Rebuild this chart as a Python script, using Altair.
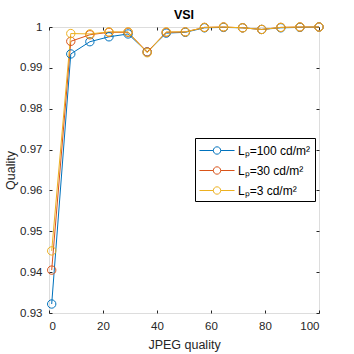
import altair as alt
import pandas as pd

jpeg_q = [1, 8.07, 15.14, 22.21, 29.29, 36.36, 43.43, 50.5, 57.57, 64.64, 71.71, 78.79, 85.86, 92.93, 100]
vsi_100 = [0.9322, 0.9934, 0.9964, 0.9976, 0.9983, 0.9939, 0.9985, 0.9987, 0.9998, 0.9999, 0.9998, 0.9994, 0.9998, 0.9999, 1.0]
vsi_30 = [0.9405, 0.9965, 0.9981, 0.9987, 0.9987, 0.9939, 0.9987, 0.9988, 0.9999, 1.0, 0.9998, 0.9994, 0.9999, 1.0, 1.0]
vsi_3 = [0.9452, 0.9984, 0.9983, 0.9988, 0.9988, 0.9937, 0.9988, 0.9988, 0.9999, 1.0, 0.9998, 0.9994, 0.9999, 1.0, 1.0]
series = ["Lₚ=100 cd/m²", "Lₚ=30 cd/m²", "Lₚ=3 cd/m²"]
colors = ["#0072BD", "#D95319", "#EDB120"]
x_ticks = [0, 20, 40, 60, 80, 100]
y_ticks = [0.93, 0.94, 0.95, 0.96, 0.97, 0.98, 0.99, 1.0]

rows = []
for name, vals in zip(series, [vsi_100, vsi_30, vsi_3]):
    for q, v in zip(jpeg_q, vals):
        rows.append({"q": q, "v": v, "s": name})
df = pd.DataFrame(rows)

FONT = "Liberation Sans"
TXT = "#262626"

xscale = alt.Scale(domain=[0, 100], nice=False)
yscale = alt.Scale(domain=[0.93, 1.0], nice=False, zero=False)

sym_path = "M-1,0L0.73,0M1.65,0L3.38,0M1.65,0A0.46,0.46,0,1,1,0.73,0A0.46,0.46,0,1,1,1.65,0"

main = alt.Chart(df).mark_line(
    strokeWidth=1, clip=False,
    point=alt.OverlayMarkDef(filled=False, size=70, strokeWidth=1, fill=None, clip=False),
).encode(
    x=alt.X("q:Q", scale=xscale, axis=alt.Axis(
        values=x_ticks, title="JPEG quality", domain=False, grid=False,
        offset=-3, tickSize=3, tickColor=TXT, labelPadding=7,
        labelColor=TXT, labelFont=FONT, labelFontSize=11.5,
        titleFont=FONT, titleFontSize=12.5, titleFontWeight="normal", titleColor=TXT,
        titlePadding=7)),
    y=alt.Y("v:Q", scale=yscale, axis=alt.Axis(
        values=y_ticks, title="Quality", domain=False, grid=False,
        offset=-3, tickSize=3, tickColor=TXT, labelPadding=7,
        labelExpr="datum.value >= 0.9999 ? '1' : format(datum.value, '.2f')",
        labelColor=TXT, labelFont=FONT, labelFontSize=11.5,
        titleFont=FONT, titleFontSize=12.5, titleFontWeight="normal", titleColor=TXT,
        titlePadding=2)),
    color=alt.Color("s:N", scale=alt.Scale(domain=series, range=colors), sort=series,
        legend=alt.Legend(
            title=None, orient="none", legendX=146, legendY=111,
            symbolType=sym_path, symbolSize=256, symbolStrokeWidth=1,
            symbolFillColor="transparent", labelFont=FONT, labelFontSize=12,
            labelColor="black", labelOffset=22, rowPadding=5, padding=4,
            strokeColor="black", fillColor="white", labelLimit=200)),
)

ghost = alt.Chart(df).mark_point(opacity=0).encode(
    x=alt.X("q:Q", scale=xscale, axis=alt.Axis(
        orient="top", values=x_ticks, labels=False, title=None, domain=False, grid=False,
        offset=-3, tickSize=3, tickColor=TXT)),
    y=alt.Y("v:Q", scale=yscale, axis=alt.Axis(
        orient="right", values=y_ticks, labels=False, title=None, domain=False, grid=False,
        offset=-3, tickSize=3, tickColor=TXT)),
)

chart = alt.layer(main, ghost).resolve_axis(x="independent", y="independent").properties(
    width=270, height=286,
    title=alt.TitleParams("VSI", font=FONT, fontSize=12.5, fontWeight="bold", color="black", offset=-1),
    autosize=alt.AutoSizeParams(type="none"),
    padding={"left": 49, "top": 27, "right": 35, "bottom": 41},
).configure_view(stroke=TXT, strokeWidth=1).configure(background="white")

chart.save("out.html", embed_options={"renderer": "svg", "actions": False})
